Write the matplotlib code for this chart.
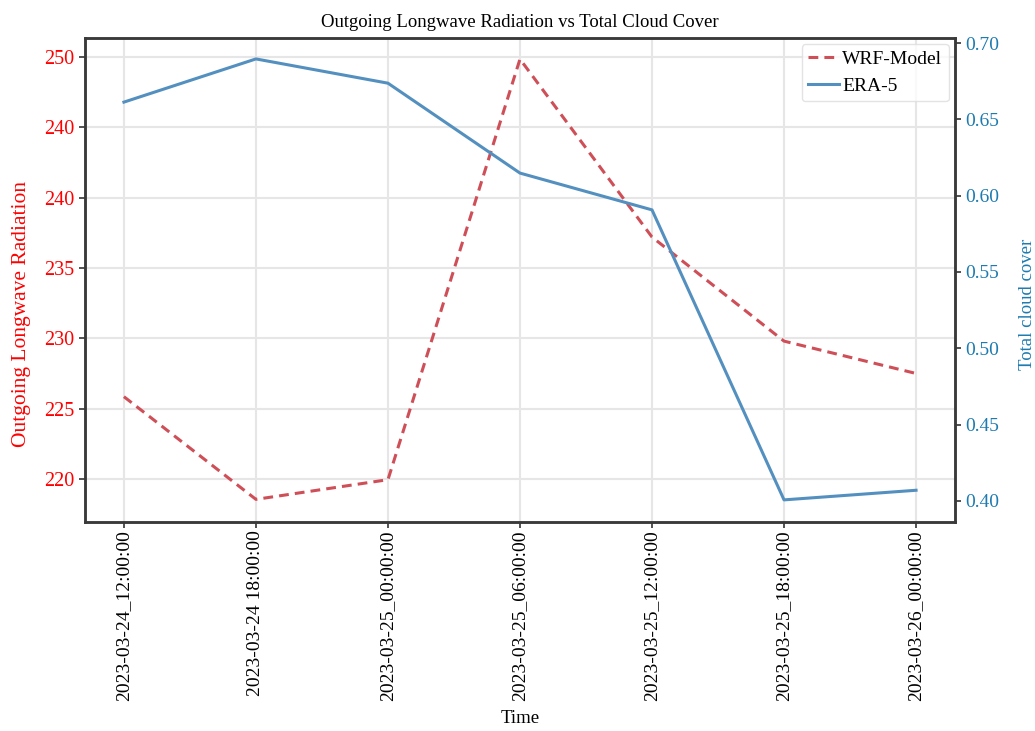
import numpy as np
import matplotlib.pyplot as plt
from matplotlib.ticker import FixedLocator, FixedFormatter

plt.rcParams['font.family'] = ['Liberation Serif', 'DejaVu Serif']

# Horas de simulación
tempos = ["2023-03-24_12:00:00", "2023-03-24 18:00:00", "2023-03-25_00:00:00",
          "2023-03-25_06:00:00", "2023-03-25_12:00:00", "2023-03-25_18:00:00",
          "2023-03-26_00:00:00"]

# OLR do modelo WRF
olr_wrf = [225.85, 218.55, 219.95, 249.85, 237.2, 229.8, 227.5]

# Cuberta total de nubes de ERA-5
tcc_era5 = [0.6613, 0.6896, 0.6737, 0.6148, 0.5907, 0.4007, 0.4070]

# Etiquetas do eixo esquerdo
olr_ticks = [250, 245, 240, 235, 230, 225, 220]
olr_tick_labels = ["250", "240", "240", "235", "230", "225", "220"]

cor_wrf = "#cf4f58"
cor_era = "#5490bf"
cor_eixo_dereito = "#1c7bb0"

fig = plt.figure(figsize=(10.35, 7.31), dpi=100)
ax1 = fig.add_axes([0.0821, 0.2859, 0.8406, 0.6621])
ax2 = ax1.twinx()

x = np.arange(len(tempos))

l1, = ax1.plot(x, olr_wrf, color=cor_wrf, linestyle="--", linewidth=2.2,
               dashes=(3.2, 2.0), label="WRF-Model")
l2, = ax2.plot(x, tcc_era5, color=cor_era, linewidth=2.2, label="ERA-5")

ax1.set_ylim(216.94, 251.35)
ax2.set_ylim(0.3862, 0.7033)
ax1.set_xlim(-0.295, 6.295)

ax1.yaxis.set_major_locator(FixedLocator(olr_ticks))
ax1.yaxis.set_major_formatter(FixedFormatter(olr_tick_labels))
ax2.set_yticks([0.40, 0.45, 0.50, 0.55, 0.60, 0.65, 0.70])
ax2.set_yticklabels(["0.40", "0.45", "0.50", "0.55", "0.60", "0.65", "0.70"])

ax1.set_xticks(x)
ax1.set_xticklabels(tempos, rotation=90, fontsize=14)

ax1.grid(True, color="#e6e6e6", linewidth=1.5)
ax1.set_axisbelow(True)

ax1.tick_params(axis="y", colors="red", labelsize=14.5, length=4, width=1.2)
ax1.tick_params(axis="y", color="#333333")
ax2.tick_params(axis="y", labelcolor=cor_eixo_dereito, labelsize=14, length=4,
                width=1.2, color="#333333")
ax1.tick_params(axis="x", length=4, width=1.2, color="#333333", pad=2)

for ax in (ax1, ax2):
    for s in ax.spines.values():
        s.set_color("#3a3a3a")
        s.set_linewidth(1.8)

ax1.set_ylabel("Outgoing Longwave Radiation", color="red", fontsize=15.5)
ax1.yaxis.set_label_coords(-0.062, 0.43)
ax2.set_ylabel("Total cloud cover", color=cor_eixo_dereito, fontsize=13.5)
ax2.yaxis.set_label_coords(1.074, 0.45)
ax1.set_xlabel("Time", fontsize=13.5, labelpad=6)
ax1.set_title("Outgoing Longwave Radiation vs Total Cloud Cover", fontsize=13.5, pad=8)

leg = ax1.legend(handles=[l1, l2], loc="upper right", fontsize=14,
                 handlelength=1.6, handletextpad=0.15, borderpad=0.35,
                 labelspacing=0.45, borderaxespad=0.3, fancybox=True)
leg.get_frame().set_edgecolor("#dddddd")

fig.savefig("out.png", dpi=100)
